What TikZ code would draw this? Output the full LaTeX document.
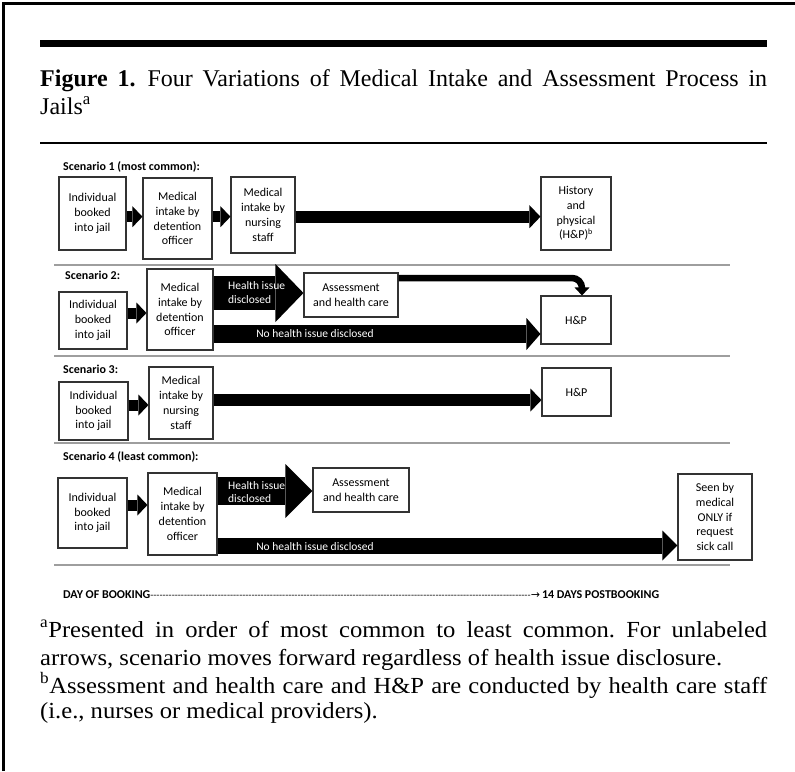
\documentclass[tikz,border=0pt]{standalone}
\usepackage{fontspec}
\setmainfont{Liberation Serif}
\newfontfamily\fnfont{Liberation Serif}[FakeStretch=1.07]
\newfontfamily\calfont{Carlito}
\newfontfamily\dvfont{DejaVu Sans}
\usetikzlibrary{arrows.meta,calc}
\frenchspacing
\begin{document}
\begin{tikzpicture}[x=1pt,y=-1pt,
  box/.style={draw=black!80, line width=1.1pt, fill=white, align=center, inner sep=0pt,
    font=\calfont\fontsize{12}{14.8}\selectfont, text=black},
  sepline/.style={draw=black!38, line width=1.3pt},
  lbl/.style={anchor=west, inner sep=0pt, font=\calfont\bfseries\fontsize{12}{14}\selectfont},
  wtxt/.style={text=white, inner sep=0pt, align=left, font=\calfont\fontsize{11.5}{13.3}\selectfont},
  fnote/.style={anchor=base west, inner sep=0pt, font=\fnfont\fontsize{23}{28}\selectfont},
  smallarr/.style={line width=11pt, -{Triangle[length=10pt,width=21pt,line width=0pt]}},
  medarr/.style={line width=12pt, -{Triangle[length=11pt,width=23pt,line width=0pt]}},
  hiarrA/.style={line width=34pt, -{Triangle[length=28pt,width=58pt,line width=0pt]}},
  hiarrB/.style={line width=28pt, -{Triangle[length=27pt,width=54pt,line width=0pt]}},
  noarrA/.style={line width=18pt, -{Triangle[length=14pt,width=32pt,line width=0pt]}},
  noarrB/.style={line width=16pt, -{Triangle[length=15pt,width=30pt,line width=0pt]}},
  curvearr/.style={line width=6.5pt, rounded corners=10pt, -{Triangle[length=8pt,width=15pt,line width=0pt]}}
]
\useasboundingbox (0,0) rectangle (795,771);
\fill[white] (0,0) rectangle (795,771);
% frame
\draw[line width=2.5pt] (3.5,771) -- (3.5,3.5) -- (795,3.5);
% header
\draw[line width=7pt] (40,43.5) -- (767,43.5);
\node[anchor=base west, inner sep=0pt, font=\fontsize{24}{28}\selectfont] (t1) at (40,86)
  {\makebox[727pt][s]{\textbf{Figure 1.}\hspace{12pt}Four Variations of Medical Intake and Assessment Process in}};
\node[anchor=base west, inner sep=0pt, font=\fontsize{24}{28}\selectfont] (t2) at (40,114) {Jails\textsuperscript{a}};
\draw[line width=1.3pt] (40,143) -- (767,143);

% separators
\draw[sepline] (54,265) -- (730,265);
\draw[sepline] (54,356) -- (730,356);
\draw[sepline] (54,443) -- (730,443);
\draw[sepline] (54,565) -- (730,565);

% labels
\node[lbl] (l1) at (63,167) {Scenario 1 (most common):};
\node[lbl] (l2) at (65,275) {Scenario 2:};
\node[lbl] (l3) at (63,369) {Scenario 3:};
\node[lbl] (l4) at (63,457) {Scenario 4 (least common):};

% Scenario 1
\node[box, minimum width=67pt, minimum height=73pt] (a1) at (92.5,213.5) {Individual\\booked\\into jail};
\node[box, minimum width=69pt, minimum height=81pt] (a2) at (177.5,218.5) {Medical\\intake by\\detention\\officer};
\node[box, minimum width=64pt, minimum height=76pt] (a3) at (263,215) {Medical\\intake by\\nursing\\staff};
\node[box, minimum width=70pt, minimum height=73pt] (a4) at (576,213.5) {History\\and\\physical\\(H\&P)\textsuperscript{b}};
\coordinate (ya) at (0,216.7);
\draw[smallarr] (a1.east |- ya) -- (a2.west |- ya);
\draw[smallarr] (a2.east |- ya) -- (a3.west |- ya);
\draw[medarr] (a3.east |- ya) -- (a4.west |- ya);

% Scenario 2
\node[box, minimum width=68pt, minimum height=57pt] (b1) at (93,320.5) {Individual\\booked\\into jail};
\node[box, minimum width=66pt, minimum height=81pt] (b2) at (180,309.5) {Medical\\intake by\\detention\\officer};
\node[box, minimum width=94pt, minimum height=44pt] (b3) at (351,295) {Assessment\\and health care};
\node[box, minimum width=70pt, minimum height=48pt] (b4) at (576,320) {H\&P};
\coordinate (ybs) at (0,313);
\coordinate (ybh) at (0,293);
\coordinate (ybn) at (0,334);
\coordinate (ybc) at (0,278);
\draw[smallarr] (b1.east |- ybs) -- (b2.west |- ybs);
\draw[hiarrA] (b2.east |- ybh) -- (b3.west |- ybh);
\draw[noarrA] (b2.east |- ybn) -- (b4.west |- ybn);
\draw[curvearr] (b3.east |- ybc) -| ($(b4.north)+(6,0)$);
\node[wtxt, anchor=west] (bt1) at (228,292.5) {Health issue\\disclosed};
\node[wtxt] (bt2) at (315,333.5) {No health issue disclosed};

% Scenario 3
\node[box, minimum width=69pt, minimum height=58pt] (c1) at (93.5,411) {Individual\\booked\\into jail};
\node[box, minimum width=64pt, minimum height=72pt] (c2) at (181,403) {Medical\\intake by\\nursing\\staff};
\node[box, minimum width=69pt, minimum height=48pt] (c4) at (576.5,392) {H\&P};
\coordinate (ycs) at (0,405);
\coordinate (ycm) at (0,400);
\draw[smallarr] (c1.east |- ycs) -- (c2.west |- ycs);
\draw[medarr] (c2.east |- ycm) -- (c4.west |- ycm);

% Scenario 4
\node[box, minimum width=69pt, minimum height=70pt] (d1) at (92.5,513) {Individual\\booked\\into jail};
\node[box, minimum width=69pt, minimum height=82pt] (d2) at (182.5,514) {Medical\\intake by\\detention\\officer};
\node[box, minimum width=96pt, minimum height=44pt] (d3) at (361,490) {Assessment\\and health care};
\node[box, minimum width=74pt, minimum height=86pt] (d4) at (715,517) {Seen by\\medical\\ONLY if\\request\\sick call};
\coordinate (yds) at (0,505);
\coordinate (ydh) at (0,491);
\coordinate (ydn) at (0,545.5);
\draw[smallarr] (d1.east |- yds) -- (d2.west |- yds);
\draw[hiarrB] (d2.east |- ydh) -- (d3.west |- ydh);
\draw[noarrB] (d2.east |- ydn) -- (d4.west |- ydn);
\node[wtxt, anchor=west] (dt1) at (228,492.3) {Health issue\\disclosed};
\node[wtxt] (dt2) at (315,547) {No health issue disclosed};

% timeline
\node[anchor=west, inner sep=0pt, font=\calfont\fontsize{12}{14}\selectfont] (tl) at (63,595)
  {\makebox[596pt][l]{\textbf{DAY OF BOOKING}{\fontsize{10}{12}\selectfont\xleaders\hbox{-}\hfill}{\dvfont\fontsize{11}{12}\selectfont →}\,\textbf{14 DAYS POSTBOOKING}}};

% footnotes
\node[fnote] (f1) at (40,637)
  {\makebox[727pt][s]{\textsuperscript{a}Presented in order of most common to least common. For unlabeled}};
\node[fnote] (f2) at (40,665)
  {arrows, scenario moves forward regardless of health issue disclosure.};
\node[fnote] (f3) at (40,693)
  {\makebox[727pt][s]{\textsuperscript{b}Assessment and health care and H\&P are conducted by health care staff}};
\node[fnote] (f4) at (40,718)
  {(i.e., nurses or medical providers).};
\end{tikzpicture}
\end{document}
